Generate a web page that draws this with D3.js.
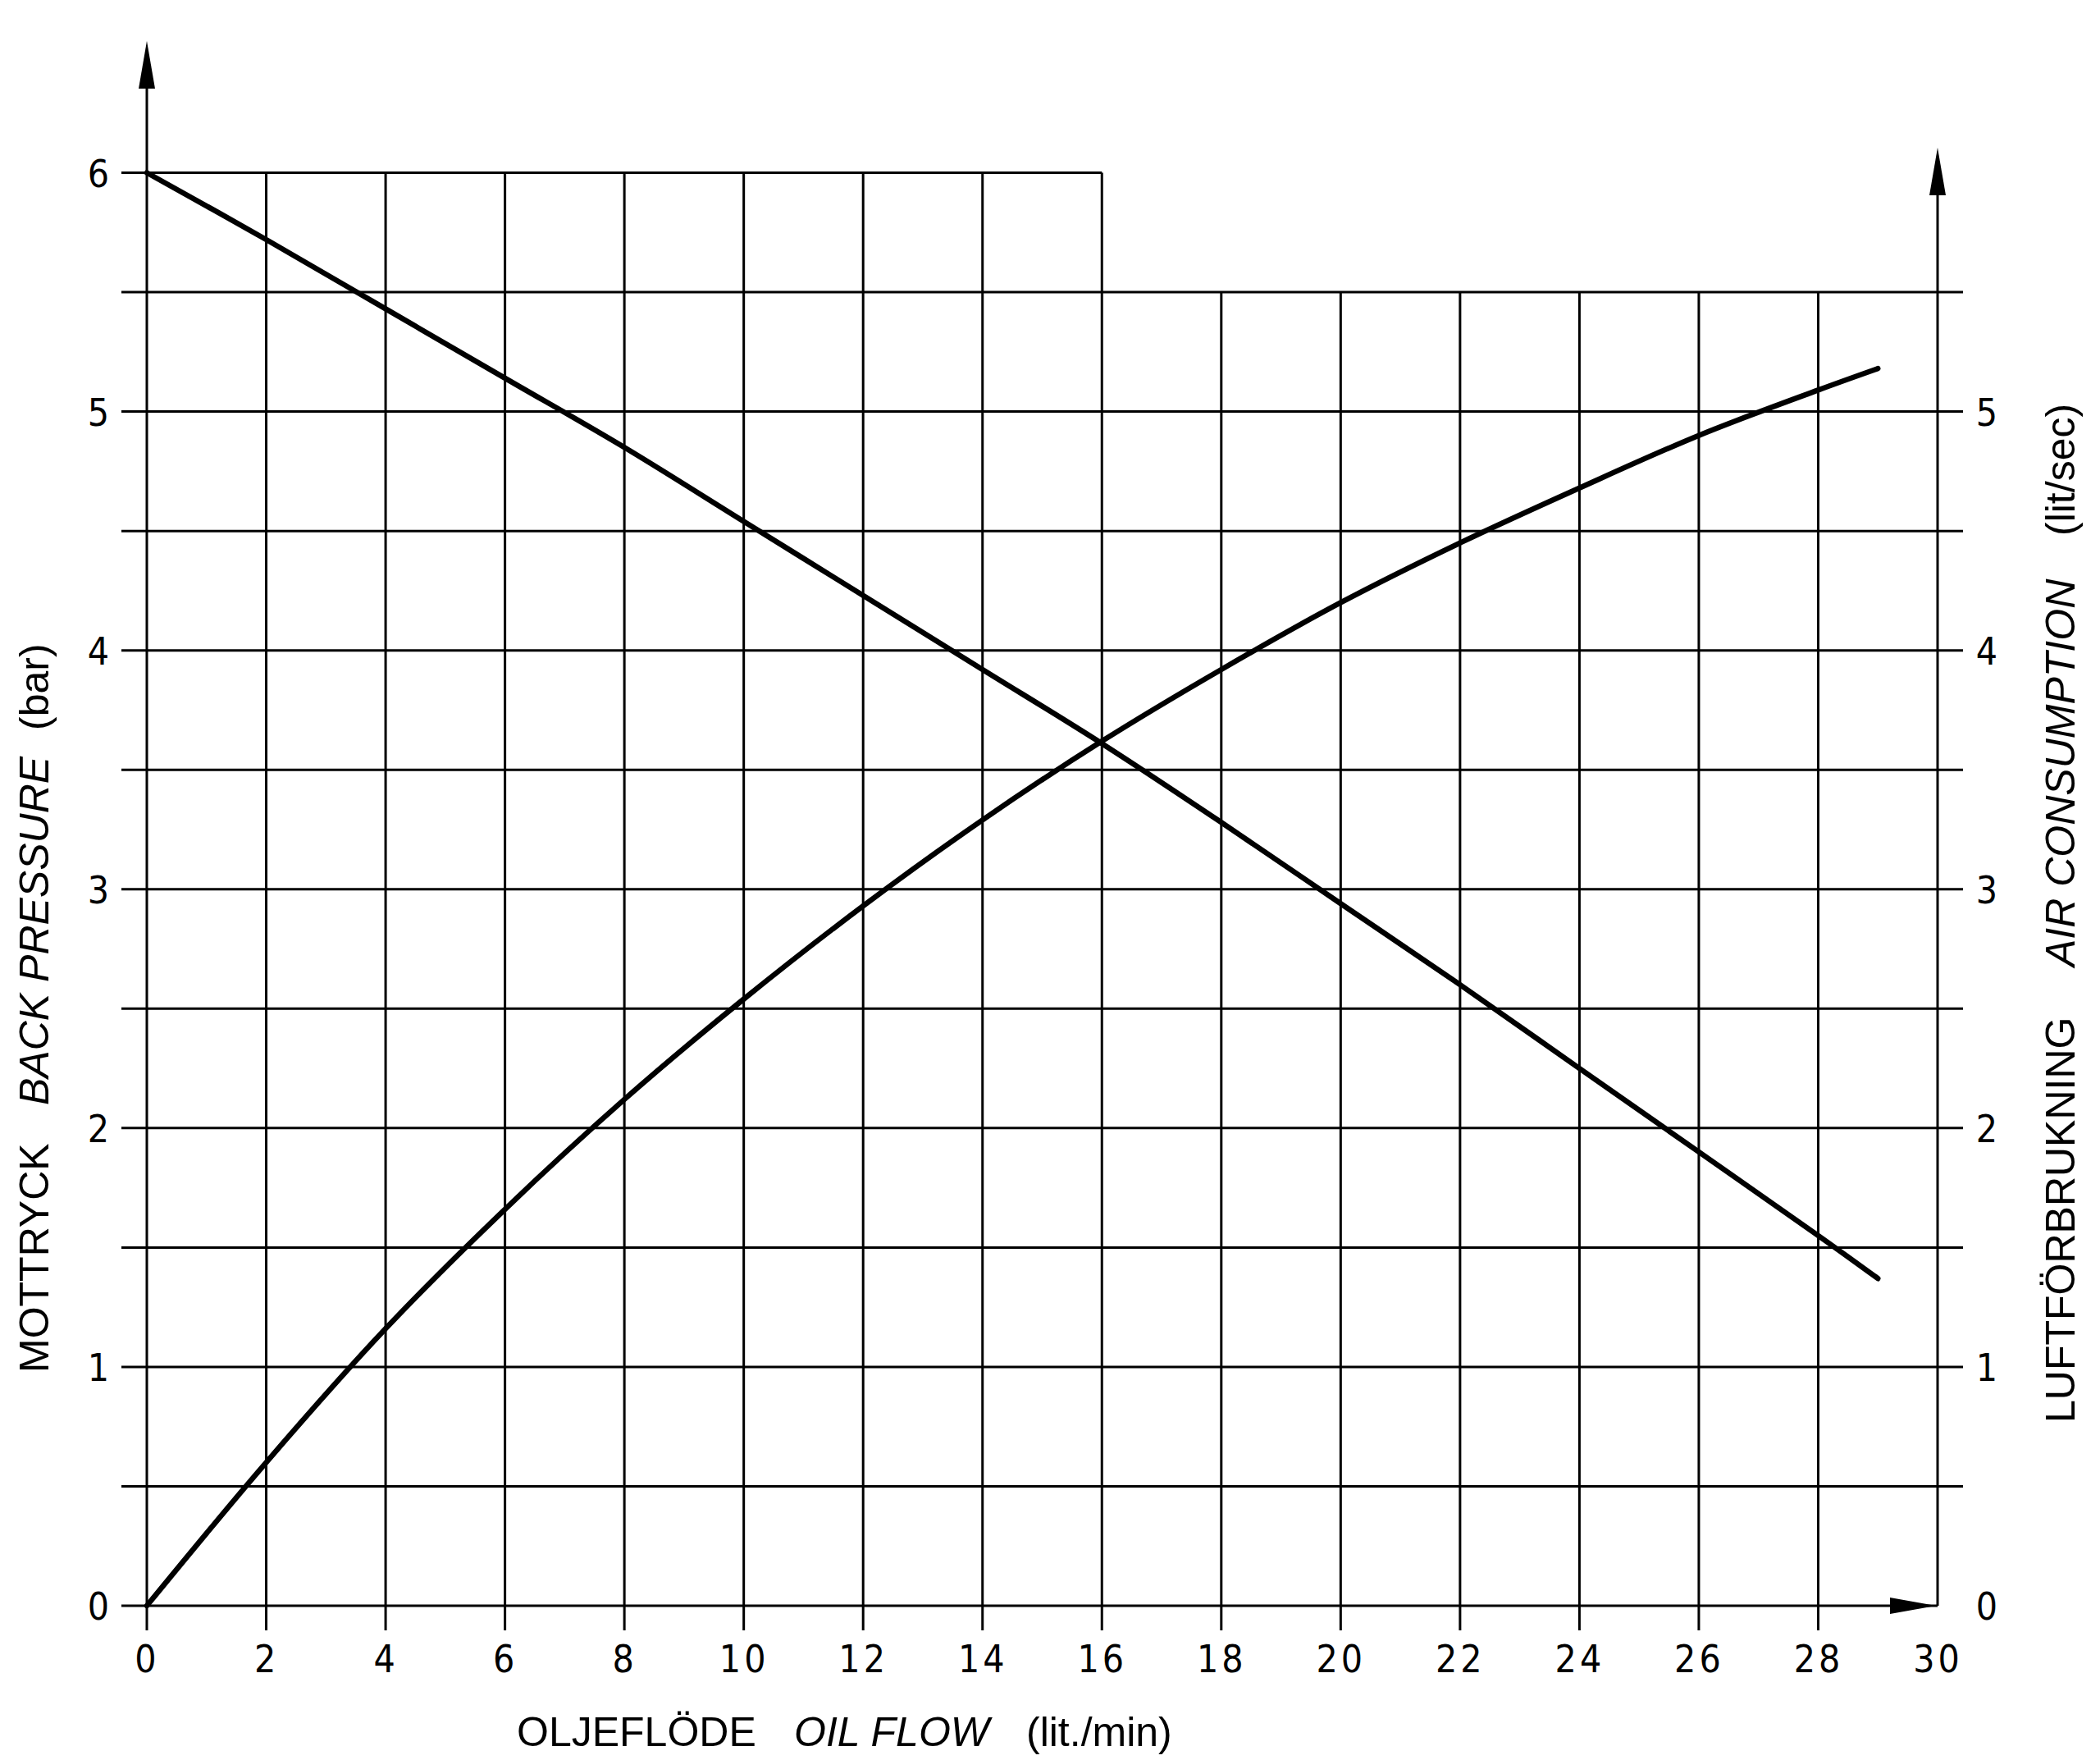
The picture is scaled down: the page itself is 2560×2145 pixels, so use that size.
<!DOCTYPE html>
<html>
<head>
<meta charset="utf-8">
<script src="https://cdn.jsdelivr.net/npm/d3@7"></script>
<style>
html,body{margin:0;padding:0;background:#fff;}
svg{display:block;}
.tick text{font-family:"DejaVu Sans Condensed","DejaVu Sans",sans-serif;font-stretch:condensed;font-size:46px;fill:#000;}
.title{font-family:"Liberation Sans",Arial,sans-serif;font-size:50px;fill:#000;}
</style>
</head>
<body>
<svg id="chart" width="2560" height="2145"></svg>
<script>
// ---- data ----
const oilFlow        = [0, 2, 4, 6, 8, 10, 12, 14, 16, 18, 20, 22, 24, 26, 28, 29];
const backPressure   = [6.00, 5.72, 5.43, 5.14, 4.85, 4.54, 4.23, 3.92, 3.61, 3.28, 2.94, 2.60, 2.25, 1.90, 1.55, 1.37];
const airConsumption = [0.00, 0.60, 1.16, 1.66, 2.12, 2.54, 2.93, 3.29, 3.62, 3.92, 4.20, 4.45, 4.68, 4.90, 5.09, 5.18];
const xTickValues    = [0, 2, 4, 6, 8, 10, 12, 14, 16, 18, 20, 22, 24, 26, 28, 30];
const leftTickValues = [0, 1, 2, 3, 4, 5, 6];
const rightTickValues= [0, 1, 2, 3, 4, 5];
const hGridValues    = [0.5, 1, 1.5, 2, 2.5, 3, 3.5, 4, 4.5, 5, 5.5];
const xTitleParts    = [["OLJEFLÖDE", "normal"], ["OIL FLOW", "italic"], ["(lit./min)", "normal"]];
const leftTitleParts = [["MOTTRYCK", "normal"], ["BACK PRESSURE", "italic"], ["(bar)", "normal"]];
const rightTitleParts= [["LUFTFÖRBRUKNING", "normal"], ["AIR CONSUMPTION", "italic"], ["(lit/sec)", "normal"]];

// ---- layout ----
const svg = d3.select("#chart");
const x = d3.scaleLinear().domain([0, 30]).range([179, 2362]);
const y = d3.scaleLinear().domain([0, 6]).range([1957, 210.5]);
const gridW = 3;
const leftExt = 148, rightExt = 2393, tickBelow = 30;

const g = svg.append("g").attr("stroke", "#000").attr("stroke-width", gridW).attr("fill", "none");

// horizontal grid lines
g.selectAll("line.h").data(hGridValues).join("line")
  .attr("x1", leftExt).attr("x2", rightExt)
  .attr("y1", d => y(d)).attr("y2", d => y(d));
// top line at 6 (only up to x=16)
g.append("line").attr("x1", leftExt).attr("x2", x(16)).attr("y1", y(6)).attr("y2", y(6));
// baseline y=0
g.append("line").attr("x1", leftExt).attr("x2", x(30)).attr("y1", y(0)).attr("y2", y(0));

// vertical grid lines
const inner = xTickValues.filter(v => v > 0 && v < 30);
g.selectAll("line.v").data(inner).join("line")
  .attr("x1", d => x(d)).attr("x2", d => x(d))
  .attr("y1", y(0) + tickBelow)
  .attr("y2", d => d <= 16 ? y(6) : y(5.5));

// left axis
g.append("line").attr("x1", x(0)).attr("x2", x(0)).attr("y1", y(0) + tickBelow).attr("y2", 100);
svg.append("path").attr("fill", "#000")
  .attr("d", `M${x(0)},50 L${x(0)-10},108 L${x(0)+10},108 Z`);
// right axis
g.append("line").attr("x1", x(30)).attr("x2", x(30)).attr("y1", y(0)).attr("y2", 230);
svg.append("path").attr("fill", "#000")
  .attr("d", `M${x(30)},180 L${x(30)-10},238 L${x(30)+10},238 Z`);
// x arrow
svg.append("path").attr("fill", "#000")
  .attr("d", `M${x(30)-2},${y(0)} L${x(30)-58},${y(0)-10} L${x(30)-58},${y(0)+10} Z`);

// tick labels via d3 axes
const xAxis = svg.append("g").attr("transform", `translate(0,${y(0)})`)
  .call(d3.axisBottom(x).tickValues(xTickValues).tickSize(0).tickFormat(d3.format("d")));
xAxis.select(".domain").remove();
xAxis.selectAll(".tick text").attr("y", 81).attr("dy", 0).attr("letter-spacing", 4);

const lAxis = svg.append("g").attr("transform", `translate(120,0)`)
  .call(d3.axisLeft(y).tickValues(leftTickValues).tickSize(0).tickPadding(0).tickFormat(d3.format("d")));
lAxis.select(".domain").remove();
lAxis.selectAll(".tick text").attr("x", 0).attr("dy", "0.36em").attr("text-anchor", "middle");

const rAxis = svg.append("g").attr("transform", `translate(2422,0)`)
  .call(d3.axisRight(y).tickValues(rightTickValues).tickSize(0).tickPadding(0).tickFormat(d3.format("d")));
rAxis.select(".domain").remove();
rAxis.selectAll(".tick text").attr("x", 0).attr("dy", "0.36em").attr("text-anchor", "middle");

// curves
const line = d3.line().curve(d3.curveCatmullRom.alpha(0.5)).x((d, i) => x(oilFlow[i])).y(d => y(d));
svg.append("path").datum(backPressure).attr("d", line)
  .attr("fill", "none").attr("stroke", "#000").attr("stroke-width", 6.5).attr("stroke-linecap", "round");
svg.append("path").datum(airConsumption).attr("d", line)
  .attr("fill", "none").attr("stroke", "#000").attr("stroke-width", 6.5).attr("stroke-linecap", "round");

// titles
function title(parts, offsets, transform) {
  const t = svg.append("g").attr("transform", transform);
  parts.forEach((p, i) => {
    t.append("text").attr("class", "title").attr("x", offsets[i]).attr("y", 0)
      .attr("font-style", p[1]).text(p[0]);
  });
}
title(xTitleParts, [0, 338, 621], "translate(630,2128)");
title(leftTitleParts, [0, 326, 783], "translate(59,1673) rotate(-90)");
title(rightTitleParts, [0, 556, 1081], "translate(2529,1734) rotate(-90)");
</script>
</body>
</html>
